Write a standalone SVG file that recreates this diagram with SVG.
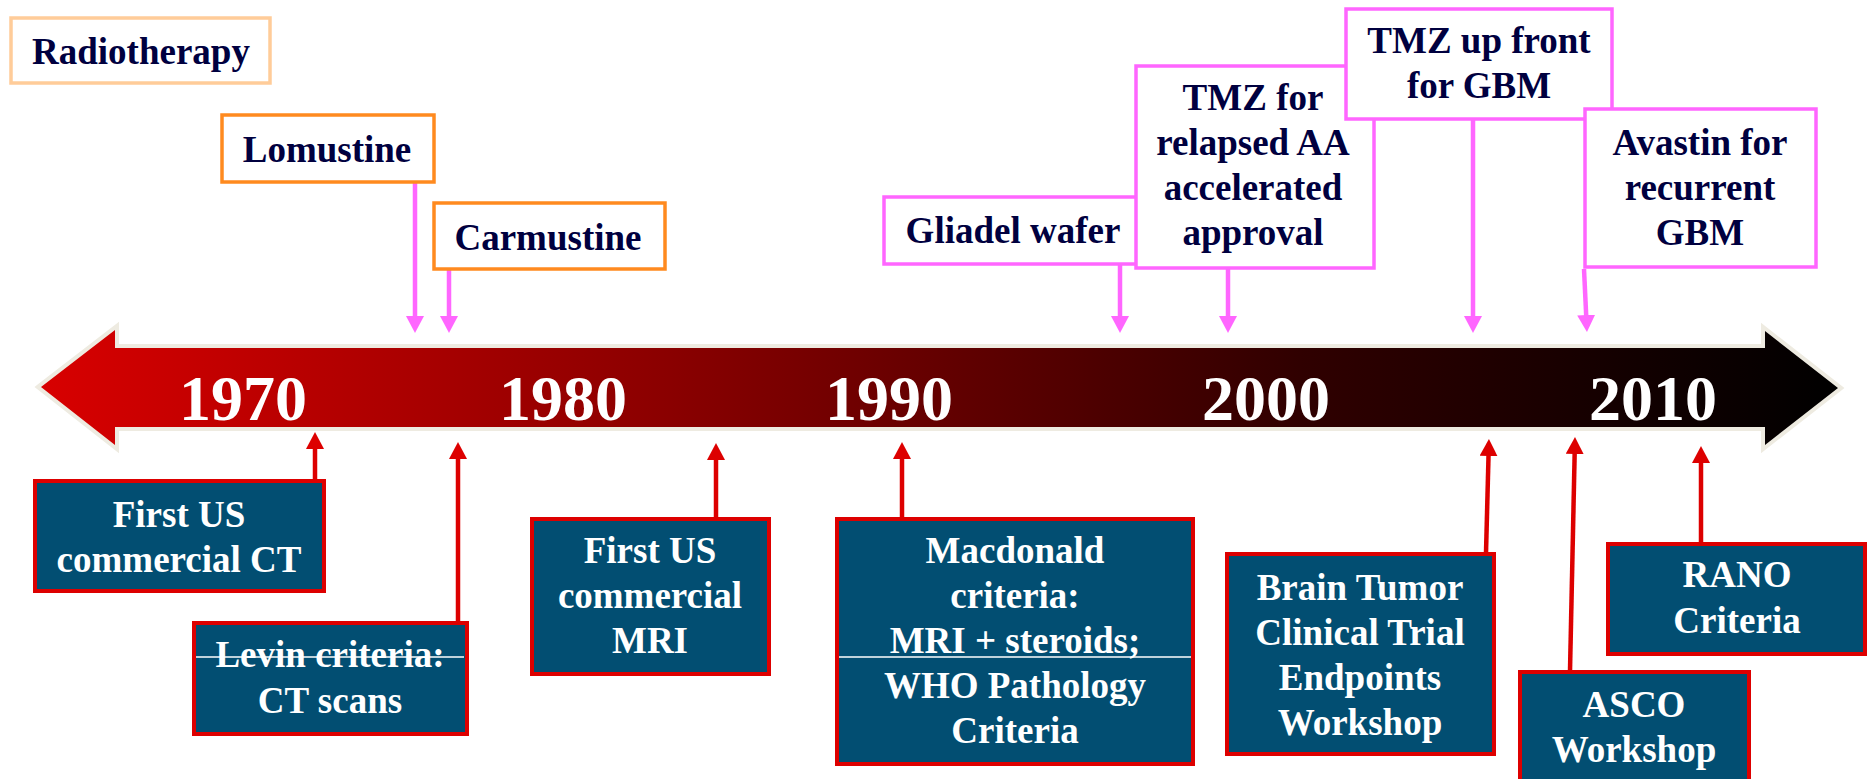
<svg xmlns="http://www.w3.org/2000/svg" width="1870" height="779" viewBox="0 0 1870 779">
<style>
text{font-family:"Liberation Serif","Times New Roman",serif;font-weight:bold;text-anchor:middle}
.top text{fill:#00003F;font-size:37px}
.bot text{fill:#FFFFFF;font-size:37px}
.year{fill:#FFFFFF;font-size:64px}
.pbox{fill:#FFFFFF;stroke:#FF66FF;stroke-width:3.5}
.obox{fill:#FFFFFF;stroke:#FF8A1F;stroke-width:3.5}
.rbox{fill:#FFFFFF;stroke:#FFCC99;stroke-width:3.5}
.bbox{fill:#024E72;stroke:#DD0000;stroke-width:4}
.sep{stroke:#FFFFFF;stroke-width:1.5}
.pc{stroke:#FF66FF;stroke-width:4.5;fill:none;marker-end:url(#ph)}
.rc{stroke:#DD0000;stroke-width:4.5;fill:none;marker-end:url(#rh)}
</style>
<defs>
<linearGradient id="tl" x1="40" y1="0" x2="1840" y2="0" gradientUnits="userSpaceOnUse">
<stop offset="0" stop-color="#D80000"/>
<stop offset="0.35" stop-color="#8A0000"/>
<stop offset="0.7" stop-color="#300000"/>
<stop offset="1" stop-color="#000000"/>
</linearGradient>
<marker id="ph" markerUnits="userSpaceOnUse" markerWidth="17" markerHeight="18" viewBox="0 0 17 18" refX="7" refY="9" orient="auto">
<path d="M0,0 L17,9 L0,18 Z" fill="#FF66FF"/>
</marker>
<marker id="rh" markerUnits="userSpaceOnUse" markerWidth="17" markerHeight="18" viewBox="0 0 17 18" refX="7" refY="9" orient="auto">
<path d="M0,0 L17,9 L0,18 Z" fill="#DD0000"/>
</marker>
</defs>
<rect width="1870" height="779" fill="#FFFFFF"/>

<g id="timeline">
<path d="M41,387 L115,330 L115,348 L1765,348 L1765,331 L1838,388 L1765,445 L1765,427 L115,427 L115,445 Z" fill="url(#tl)" stroke="#EEEBE1" stroke-width="8" paint-order="stroke"/>
<text class="year" x="243" y="420">1970</text>
<text class="year" x="563" y="420">1980</text>
<text class="year" x="889" y="420">1990</text>
<text class="year" x="1266" y="420">2000</text>
<text class="year" x="1653" y="420">2010</text>
</g>

<g id="connectors">
<line class="pc" x1="415" y1="182" x2="415" y2="323"/>
<line class="pc" x1="449" y1="269" x2="449" y2="323"/>
<line class="pc" x1="1120" y1="264" x2="1120" y2="323"/>
<line class="pc" x1="1228" y1="268" x2="1228" y2="323"/>
<line class="pc" x1="1473" y1="119" x2="1473" y2="323"/>
<line class="pc" x1="1584" y1="269" x2="1586.5" y2="322"/>
<line class="rc" x1="315" y1="481" x2="315" y2="442"/>
<line class="rc" x1="458" y1="622" x2="458" y2="452"/>
<line class="rc" x1="716" y1="518" x2="716" y2="453"/>
<line class="rc" x1="902" y1="518" x2="902" y2="452"/>
<line class="rc" x1="1486" y1="553" x2="1488.7" y2="449"/>
<line class="rc" x1="1570" y1="671" x2="1574.8" y2="447"/>
<line class="rc" x1="1701" y1="543" x2="1701" y2="456"/>
</g>

<g class="top">
<g id="radiotherapy"><rect class="rbox" x="11" y="18" width="259" height="65"/><text x="141" y="64">Radiotherapy</text></g>
<g id="lomustine"><rect class="obox" x="222" y="115" width="212" height="67"/><text x="327" y="162">Lomustine</text></g>
<g id="carmustine"><rect class="obox" x="434" y="203" width="231" height="66"/><text x="548" y="250">Carmustine</text></g>
<g id="gliadel"><rect class="pbox" x="884" y="197" width="259" height="67"/><text x="1013" y="243">Gliadel wafer</text></g>
<g id="tmz-relapsed"><rect class="pbox" x="1136" y="66" width="238" height="202"/><text x="1253" y="110">TMZ for</text><text x="1253" y="155">relapsed AA</text><text x="1253" y="200">accelerated</text><text x="1253" y="245">approval</text></g>
<g id="tmz-upfront"><rect class="pbox" x="1346" y="9" width="266" height="110"/><text x="1479" y="53">TMZ up front</text><text x="1479" y="98">for GBM</text></g>
<g id="avastin"><rect class="pbox" x="1585" y="109" width="231" height="158"/><text x="1700" y="155">Avastin for</text><text x="1700" y="200">recurrent</text><text x="1700" y="245">GBM</text></g>
</g>

<g class="bot">
<g id="first-ct"><rect class="bbox" x="35" y="481" width="289" height="110"/><text x="179" y="527">First US</text><text x="179" y="572">commercial CT</text></g>
<g id="levin"><rect class="bbox" x="194" y="623" width="273" height="111"/><text x="330" y="667">Levin criteria:</text><text x="330" y="713">CT scans</text><line class="sep" x1="196" y1="657" x2="464" y2="657"/></g>
<g id="first-mri"><rect class="bbox" x="532" y="519" width="237" height="155"/><text x="650" y="563">First US</text><text x="650" y="608">commercial</text><text x="650" y="653">MRI</text></g>
<g id="macdonald"><rect class="bbox" x="837" y="519" width="356" height="245"/><text x="1015" y="563">Macdonald</text><text x="1015" y="608">criteria:</text><text x="1015" y="653">MRI + steroids;</text><line class="sep" x1="839" y1="657" x2="1191" y2="657"/><text x="1015" y="698">WHO Pathology</text><text x="1015" y="743">Criteria</text></g>
<g id="btct"><rect class="bbox" x="1227" y="554" width="267" height="200"/><text x="1360" y="600">Brain Tumor</text><text x="1360" y="645">Clinical Trial</text><text x="1360" y="690">Endpoints</text><text x="1360" y="735">Workshop</text></g>
<g id="asco"><rect class="bbox" x="1520" y="672" width="229" height="130"/><text x="1634" y="717">ASCO</text><text x="1634" y="762">Workshop</text></g>
<g id="rano"><rect class="bbox" x="1608" y="544" width="257" height="110"/><text x="1737" y="587">RANO</text><text x="1737" y="633">Criteria</text></g>
</g>
</svg>
